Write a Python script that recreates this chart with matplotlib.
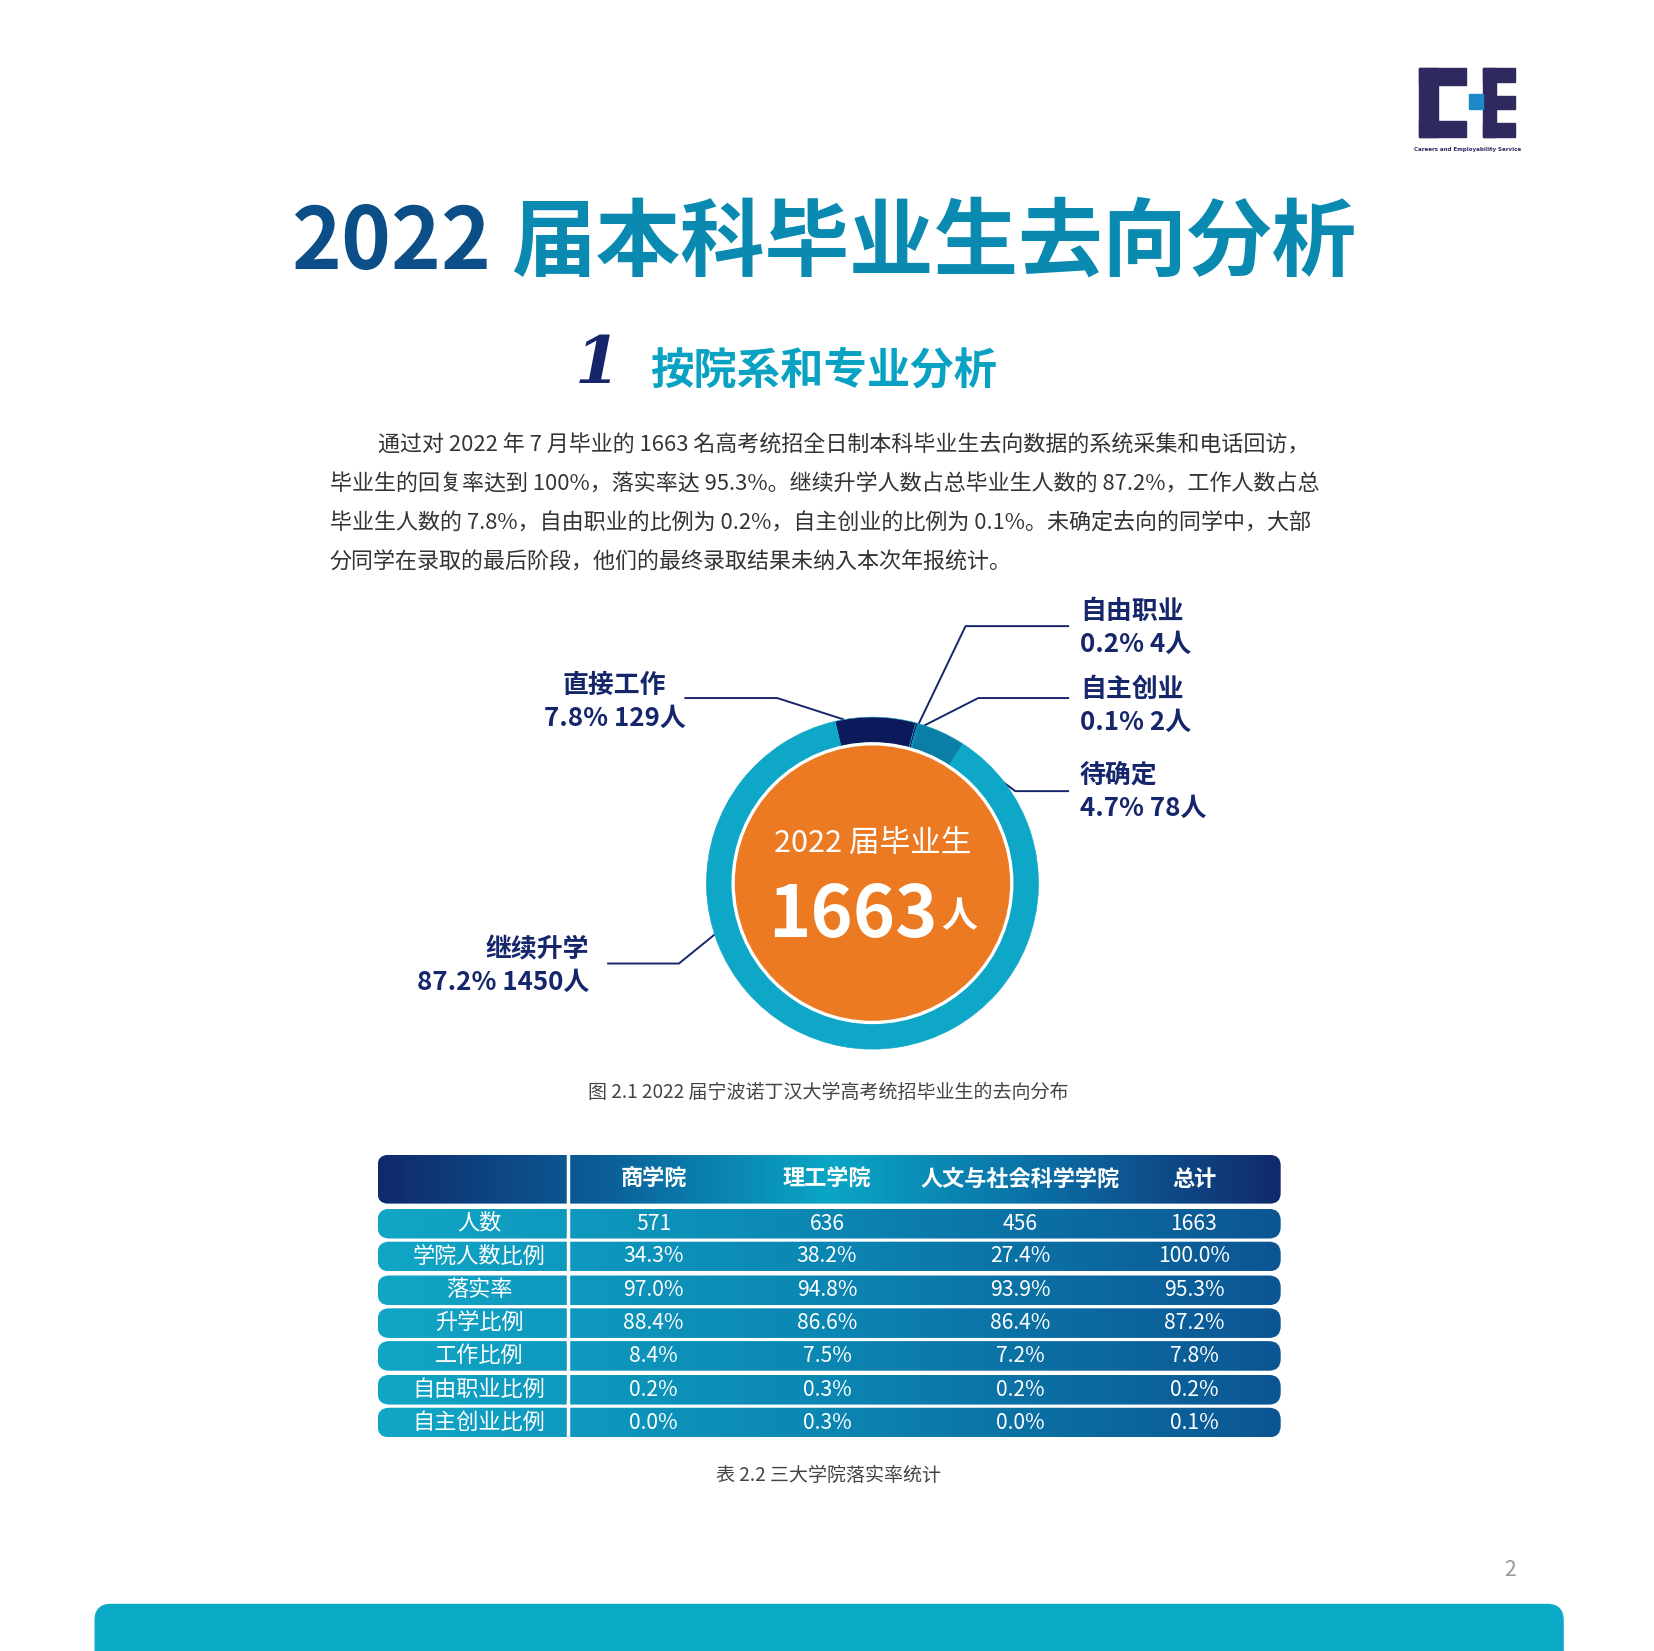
import numpy as np
import matplotlib.pyplot as plt
from matplotlib import font_manager as fm
from matplotlib.patches import Rectangle, FancyBboxPatch, Circle
from matplotlib.colors import LinearSegmentedColormap

cjk = sorted({f.name for f in fm.fontManager.ttflist if 'Sans CJK' in f.name})
cjk_name = 'Noto Sans CJK SC' if 'Noto Sans CJK SC' in cjk else (cjk[0] if cjk else 'DejaVu Sans')
plt.rcParams['font.family'] = [cjk_name, 'DejaVu Sans']

# ---- data ----
dest_labels = ['直接工作', '自由职业', '自主创业', '待确定', '继续升学']
dest_pct = [7.8, 0.2, 0.1, 4.7, 87.2]
dest_count = [129, 4, 2, 78, 1450]
dest_colors = ['#0c1a5b', '#0c1a5b', '#0c1a5b', '#0a7ea6', '#0fa7c7']
total = 1663

col_names = ['商学院', '理工学院', '人文与社会科学学院', '总计']
row_names = ['人数', '学院人数比例', '落实率', '升学比例', '工作比例', '自由职业比例', '自主创业比例']
table_vals = [
    ['571', '636', '456', '1663'],
    ['34.3%', '38.2%', '27.4%', '100.0%'],
    ['97.0%', '94.8%', '93.9%', '95.3%'],
    ['88.4%', '86.6%', '86.4%', '87.2%'],
    ['8.4%', '7.5%', '7.2%', '7.8%'],
    ['0.2%', '0.3%', '0.2%', '0.2%'],
    ['0.0%', '0.3%', '0.0%', '0.1%'],
]

para = [
    '通过对 2022 年 7 月毕业的 1663 名高考统招全日制本科毕业生去向数据的系统采集和电话回访，',
    '毕业生的回复率达到 100%，落实率达 95.3%。继续升学人数占总毕业生人数的 87.2%，工作人数占总',
    '毕业生人数的 7.8%，自由职业的比例为 0.2%，自主创业的比例为 0.1%。未确定去向的同学中，大部',
    '分同学在录取的最后阶段，他们的最终录取结果未纳入本次年报统计。',
]

W, H = 1564, 1561
P = 0.761  # points per layout pixel
NAVY = '#16266b'

fig = plt.figure(figsize=(16.54, 16.51), dpi=100)
ax = fig.add_axes([0, 0, 1, 1])
ax.set_xlim(0, W)
ax.set_ylim(H, 0)
ax.axis('off')

# logo
lc = '#2e2a60'
for x0, y0, w, h in [(1342, 64, 18, 66), (1342, 64, 44, 16), (1342, 114, 44, 16),
                     (1402, 64, 13, 66), (1402, 64, 31, 14), (1402, 116, 31, 14), (1412, 91, 21, 12)]:
    ax.add_patch(Rectangle((x0, y0), w, h, color=lc))
ax.add_patch(Rectangle((1389, 89), 13, 14, color='#1e88c8'))
ax.text(1388, 141, 'Careers and Employability Service', fontsize=4, color=lc,
        ha='center', va='center', fontweight='bold', family='DejaVu Sans')

# titles
ax.text(464, 230, '2022', fontsize=80 * P, color='#0b4e88', ha='right', va='center', fontweight='bold')
ax.text(483, 230, '届本科毕业生去向分析', fontsize=80 * P, color='#0a8ab0', ha='left', va='center',
        fontweight='bold')
ax.text(565, 345, '1', fontsize=62 * P, color=NAVY, ha='center', va='center', style='italic',
        family='DejaVu Serif', fontweight='bold')
ax.text(615, 350, '按院系和专业分析', fontsize=41 * P, color='#0aa2c2', ha='left', va='center',
        fontweight='bold')

for i, line in enumerate(para):
    ax.text(357 if i == 0 else 312, 421 + i * 37, line, fontsize=20.8 * P, color='#333333',
            ha='left', va='center')

# donut
cx, cy, R = 825, 835, 157
dax = fig.add_axes([(cx - R) / W, 1 - (cy + R) / H, 2 * R / W, 2 * R / H])
dax.pie(dest_pct, colors=dest_colors, startangle=103, counterclock=False, radius=1,
        wedgeprops=dict(width=0.155, edgecolor='#0fa7c7', linewidth=0.4))
dax.add_patch(Circle((0, 0), 0.845, color='white'))
dax.add_patch(Circle((0, 0), 0.825, color='#ec7a22'))
dax.set_xlim(-1, 1)
dax.set_ylim(-1, 1)
dax.axis('off')
dax.text(0, 0.24, '2022 届毕业生', fontsize=29 * P, color='white', ha='center', va='center')
dax.text(-0.12, -0.2, str(total), fontsize=68 * P, color='white', ha='center', va='center',
         fontweight='bold')
dax.text(0.52, -0.2, '人', fontsize=34 * P, color='white', ha='center', va='center', fontweight='bold')

# leaders and labels
leaders = [
    [(648, 660), (735, 660), (797, 680)],
    [(1010, 592), (913, 592), (866, 690)],
    [(1010, 660), (925, 660), (870, 688)],
    [(1010, 748), (960, 748), (905, 707)],
    [(575, 911), (642, 911), (690, 872)],
]
for pts in leaders:
    xs, ys = zip(*pts)
    ax.plot(xs, ys, color=NAVY, lw=1.4)

lab_pos = [(581, 648, 'center'), (1021, 578, 'left'), (1021, 652, 'left'),
           (1021, 733, 'left'), (557, 898, 'right')]
for (x, y, ha), name, pct, cnt in zip(lab_pos, dest_labels, dest_pct, dest_count):
    ax.text(x, y, name, fontsize=24.5 * P, color=NAVY, ha=ha, va='center', fontweight='bold')
    ax.text(x, y + 31, f'{pct}% {cnt}人', fontsize=24.5 * P, color=NAVY, ha=ha, va='center',
            fontweight='bold')

ax.text(783, 1033, '图 2.1 2022 届宁波诺丁汉大学高考统招毕业生的去向分布', fontsize=18 * P,
        color='#444444', ha='center', va='center', style='italic')

# table
tx0, tx1 = 357, 1211
grad = np.linspace(0, 1, 256).reshape(1, -1)
hcmap = LinearSegmentedColormap.from_list('h', ['#102a6c', '#0b5f98', '#0aa6c6', '#0b6aa2', '#102a6c'])
rcmap = LinearSegmentedColormap.from_list('r', ['#11a6c6', '#0b86b2', '#0b5592'])


def grad_box(y0, y1, cmap, rad):
    box = FancyBboxPatch((tx0 + rad, y0 + rad), tx1 - tx0 - 2 * rad, y1 - y0 - 2 * rad,
                         boxstyle=f'round,pad={rad}', facecolor='none', edgecolor='none')
    ax.add_patch(box)
    im = ax.imshow(grad, cmap=cmap, extent=(tx0, tx1, y1, y0), aspect='auto', zorder=1)
    im.set_clip_path(box)


grad_box(1092, 1138, hcmap, 10)
col_x = [618, 782, 965, 1129]
for cx_, name in zip(col_x, col_names):
    ax.text(cx_, 1115, name, fontsize=21 * P, color='white', ha='center', va='center',
            fontweight='bold', zorder=3)

row_y = [1157, 1188, 1220, 1251, 1282, 1314, 1345]
for ry, rname, vals in zip(row_y, row_names, table_vals):
    grad_box(ry - 14, ry + 14, rcmap, 11)
    ax.text(453, ry, rname, fontsize=21 * P, color='white', ha='center', va='center', zorder=3)
    for cx_, v in zip(col_x, vals):
        ax.text(cx_, ry, v, fontsize=20 * P, color='white', ha='center', va='center', zorder=3)
ax.plot([537, 537], [1092, 1360], color='white', lw=2.5, zorder=4)
ax.set_xlim(0, W)
ax.set_ylim(H, 0)

ax.text(783, 1395, '表 2.2 三大学院落实率统计', fontsize=18 * P, color='#444444', ha='center',
        va='center', style='italic')

ax.text(1428, 1484, '2', fontsize=20 * P, color='#999999', ha='center', va='center')
ax.add_patch(FancyBboxPatch((90 + 15, 1517 + 15), 1388 - 30, 100, boxstyle='round,pad=15',
                            color='#0aaac6'))

fig.savefig('out.png', dpi=100)
